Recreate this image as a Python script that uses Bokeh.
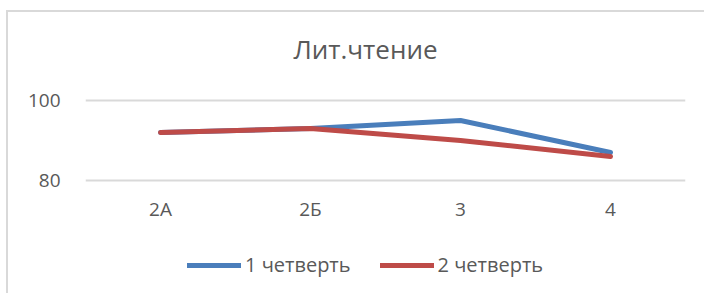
from bokeh.plotting import figure
from bokeh.models import Range1d, Legend, LegendItem, FactorRange, Label
from bokeh.embed import file_html
from bokeh.resources import INLINE

categories = ["2А", "2Б", "3", "4"]
series1_name = "1 четверть"
series2_name = "2 четверть"
series1 = [92, 93, 95, 87]
series2 = [92, 93, 90, 86]
y_ticks = [80, 100]
title_text = "Лит.чтение"

FONT = "Open Sans"
TEXT = "#595959"
BLUE = "#4a7ebb"
RED = "#be4b48"

p = figure(width=698, height=283, x_range=FactorRange(*categories),
           y_range=Range1d(51.25, 122), output_backend="svg",
           toolbar_location=None, min_border_left=77, min_border_right=21,
           min_border_top=0, min_border_bottom=0)
p.styles = {"border-left": "2px solid #d9d9d9", "border-top": "2px solid #d9d9d9",
            "margin-top": "10px", "margin-left": "6px"}
p.outline_line_color = None
p.background_fill_color = "white"
p.border_fill_color = "white"

r1 = p.line(categories, series1, line_color=BLUE, line_width=5, line_cap="round", line_join="round")
r2 = p.line(categories, series2, line_color=RED, line_width=5, line_cap="round", line_join="round")

p.xgrid.grid_line_color = None
p.ygrid.grid_line_color = "#d9d9d9"
p.ygrid.grid_line_width = 2
p.yaxis.ticker = y_ticks
p.xaxis.fixed_location = 80
for ax in (p.xaxis[0], p.yaxis[0]):
    ax.axis_line_color = None
    ax.major_tick_line_color = None
    ax.minor_tick_line_color = None
    ax.major_label_text_font = FONT
    ax.major_label_text_font_size = "19px"
    ax.major_label_text_color = TEXT
p.yaxis.major_label_standoff = 19
p.xaxis.major_label_standoff = 9

title = Label(x=280, y=247, x_units="screen", y_units="screen", text=title_text,
              text_align="center", text_baseline="middle", text_font=FONT,
              text_font_size="26px", text_color=TEXT)
p.add_layout(title)

legend = Legend(items=[LegendItem(label=series1_name, renderers=[r1]),
                       LegendItem(label=series2_name, renderers=[r2])],
                orientation="horizontal", location=(102, 17),
                glyph_width=54, glyph_height=26, label_height=26,
                label_standoff=4, spacing=29, padding=0, margin=0,
                border_line_color=None, background_fill_alpha=0,
                label_text_font=FONT, label_text_font_size="20px",
                label_text_color=TEXT)
p.add_layout(legend)

open("out.html", "w").write(file_html(p, INLINE))
